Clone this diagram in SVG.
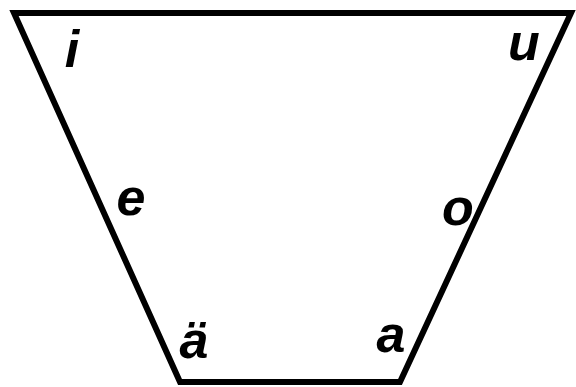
<svg xmlns="http://www.w3.org/2000/svg" width="576" height="387" viewBox="0 0 576 387">
<style>
.lbl{font-family:"Liberation Sans",Arial,sans-serif;font-size:52px;font-weight:bold;font-style:italic;fill:#000;text-anchor:middle}
</style>
<rect width="576" height="387" fill="#fff"/>
<g id="connectors">
<polygon points="14,13 571,13 400,382 180,382" fill="none" stroke="#000" stroke-width="6" stroke-linejoin="miter"/>
</g>
<g id="i"><text class="lbl" x="72" y="67">i</text></g>
<g id="u"><text class="lbl" x="524" y="60">u</text></g>
<g id="e"><text class="lbl" x="131" y="215">e</text></g>
<g id="o"><text class="lbl" x="458" y="225">o</text></g>
<g id="ae"><text class="lbl" x="194" y="358">ä</text></g>
<g id="a"><text class="lbl" x="391" y="352">a</text></g>
</svg>
